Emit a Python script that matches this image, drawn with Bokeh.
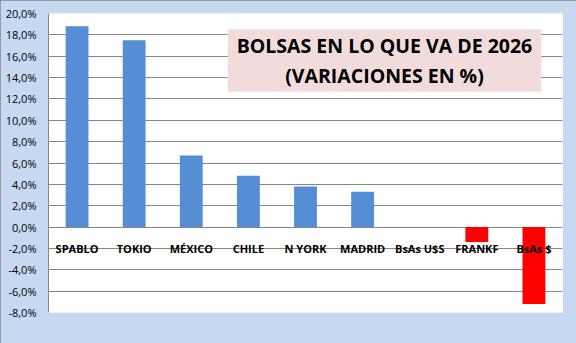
from bokeh.plotting import figure
from bokeh.models import ColumnDataSource, FactorRange, Range1d, FixedTicker, Label
from bokeh.core.properties import value
from bokeh.embed import file_html
from bokeh.resources import INLINE

categories = ["SPABLO", "TOKIO", "MÉXICO", "CHILE", "N YORK", "MADRID", "BsAs U$S", "FRANKF", "BsAs $"]
variations = [18.8, 17.5, 6.7, 4.8, 3.8, 3.3, 0.0, -1.4, -7.2]
tick_values = [-8, -6, -4, -2, 0, 2, 4, 6, 8, 10, 12, 14, 16, 18, 20]
tick_labels = ["-8,0%", "-6,0%", "-4,0%", "-2,0%", "0,0%", "2,0%", "4,0%", "6,0%", "8,0%",
               "10,0%", "12,0%", "14,0%", "16,0%", "18,0%", "20,0%"]
title_lines = ["BOLSAS EN LO QUE VA DE 2026", "(VARIACIONES EN %)"]

POS = "#558ED5"
NEG = "#FF0000"
colors = [POS if v >= 0 else NEG for v in variations]

src = ColumnDataSource(dict(cat=categories, val=variations, color=colors,
                            zero=[0] * len(categories)))

p = figure(width=576, height=343, x_range=FactorRange(*categories),
           y_range=Range1d(-8, 20), output_backend="svg", toolbar_location=None,
           min_border_left=48, min_border_right=14, min_border_top=13, min_border_bottom=31)
p.border_fill_color = "#C6D9F1"
p.background_fill_color = "white"
p.outline_line_color = None
p.xaxis.visible = False
p.xgrid.grid_line_color = None

p.yaxis.ticker = FixedTicker(ticks=tick_values)
p.yaxis.major_label_overrides = {t: l for t, l in zip(tick_values, tick_labels)}
p.yaxis.major_tick_in = 0
p.yaxis.major_tick_out = 0
p.yaxis.minor_tick_line_color = None
p.yaxis.axis_line_color = "#868686"
p.yaxis.major_label_standoff = 12
p.yaxis.major_label_text_font = "Open Sans"
p.yaxis.major_label_text_font_size = "11px"
p.yaxis.major_label_text_color = "black"
p.ygrid.ticker = FixedTicker(ticks=tick_values)
p.ygrid.grid_line_color = "#868686"
p.ygrid.grid_line_width = 1

p.vbar(x="cat", top="val", bottom=0, width=0.4, fill_color="color", line_color=None, source=src)

p.text(x="cat", y="zero", text="cat", source=src, text_align="center",
       text_baseline="alphabetic", y_offset=21, text_font=value("Open Sans"),
       text_font_style="bold", text_font_size="11px", text_color="black")

title = Label(x=336, y=252, x_units="screen", y_units="screen",
              text="\n".join(title_lines), text_align="center", text_baseline="middle",
              text_font="Open Sans", text_font_style="bold", text_font_size="19.5px",
              text_line_height=1.1, text_color="black",
              background_fill_color="#F2DCDB", padding=(9, 3))
p.add_layout(title)

p.styles = {"outline": "1px solid #868686", "outline-offset": "-1px"}

open("out.html", "w").write(file_html(p, INLINE))
